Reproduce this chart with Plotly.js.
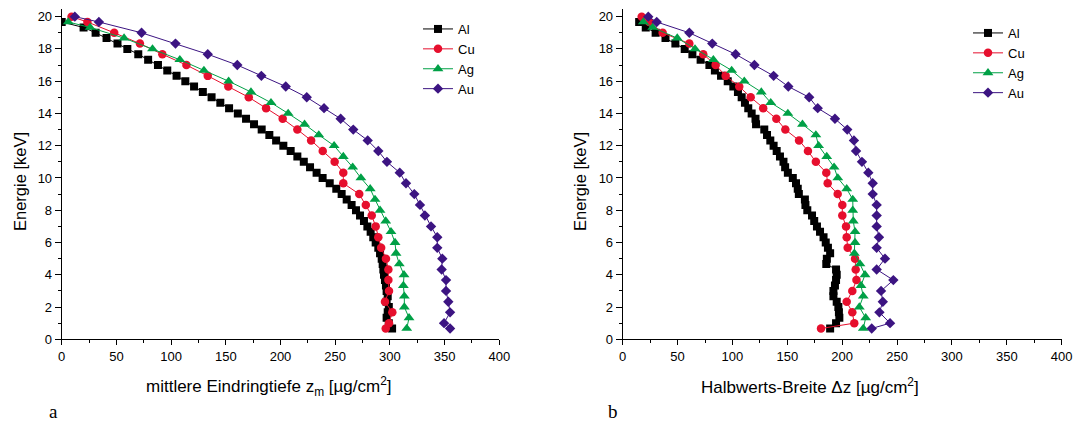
<!DOCTYPE html>
<html>
<head>
<meta charset="utf-8">
<script src="https://cdn.plot.ly/plotly-3.0.1.min.js"></script>
<style>html,body{margin:0;padding:0;background:#fff;}#chart{width:1074px;height:431px;}</style>
</head>
<body>
<div id="chart"></div>
<script>
// Energies [keV]
const energyAl = [19.67, 19.33, 19.00, 18.67, 18.33, 18.00, 17.67, 17.33, 17.00, 16.67, 16.33, 16.00, 15.67, 15.33, 15.00, 14.67, 14.33, 14.00, 13.67, 13.33, 13.00, 12.67, 12.33, 12.00, 11.67, 11.33, 11.00, 10.67, 10.33, 10.00, 9.67, 9.33, 9.00, 8.67, 8.33, 8.00, 7.67, 7.33, 7.00, 6.67, 6.33, 6.00, 5.67, 5.33, 5.00, 4.67, 4.33, 4.00, 3.67, 3.33, 3.00, 2.67, 2.33, 2.00, 1.67, 1.33, 1.00, 0.67];
const energyCuAu = [20.00, 19.67, 19.00, 18.33, 17.67, 17.00, 16.33, 15.67, 15.00, 14.33, 13.67, 13.00, 12.33, 11.67, 11.00, 10.33, 9.67, 9.00, 8.33, 7.67, 7.00, 6.33, 5.67, 5.00, 4.33, 3.67, 3.00, 2.33, 1.67, 1.00, 0.67];
const energyAg = [19.67, 19.33, 18.67, 18.00, 17.33, 16.67, 16.00, 15.33, 14.67, 14.00, 13.33, 12.67, 12.00, 11.33, 10.67, 10.00, 9.33, 8.67, 8.00, 7.33, 6.67, 6.00, 5.33, 4.67, 4.00, 3.33, 2.67, 2.00, 1.33, 0.67];

// (a) mittlere Eindringtiefe z_m [µg/cm²]
const zmAl = [0, 20, 31, 41, 51, 60, 70, 79, 88, 96.5, 105, 113, 121, 129, 137, 145, 153, 161, 168.5, 175.8, 182.8, 189.8, 196, 202.6, 209.3, 215.4, 221.3, 227, 233, 238.5, 245, 251, 255.9, 260.5, 265, 269, 272.7, 276.3, 279.4, 282.4, 284.8, 287, 289.4, 291, 292.5, 293.4, 294, 294.6, 295.5, 296.4, 297, 298, 297, 299, 298, 297, 299, 302];
const zmCu = [9, 23.5, 48, 71.5, 92, 114, 133.5, 152.3, 171, 186.8, 202, 215.4, 228, 238.6, 249.5, 257.4, 257.4, 272, 278, 283.4, 287, 289.4, 292, 296.4, 298.6, 298.6, 299.2, 295.5, 302.2, 299.2, 296.2];
const zmAg = [6, 26, 57, 83, 108, 130, 152.6, 173, 191.3, 207, 222, 235, 249, 257.4, 266, 273.5, 282, 286.4, 291, 296.2, 301, 304.7, 305.6, 308.6, 312.9, 312.3, 313.2, 313.2, 317.5, 315.4];
const zmAu = [12, 34, 73, 104, 133.5, 160.5, 182.5, 204.8, 224, 239.8, 255, 266.5, 279.7, 289.4, 297.3, 309, 314.7, 322.3, 327.5, 332, 337.6, 343.3, 343.3, 347.9, 347.3, 351.3, 351.3, 353.4, 355, 349.5, 355];

// (b) Halbwerts-Breite Δz [µg/cm²]
const dzAl = [15, 21, 30, 39, 48, 56.5, 63.5, 71, 79, 84, 89.6, 95.7, 100.8, 105, 108.4, 111.4, 114.4, 117.5, 121, 121.5, 129, 131.5, 134.5, 137.5, 140.3, 143.3, 146.5, 148, 150.5, 155, 157.9, 159.5, 160.5, 166, 166.5, 168.2, 172.5, 174.5, 177, 179.8, 183, 185, 187, 189, 186, 185.5, 194.4, 195, 194.4, 193.4, 192, 192, 195, 196.5, 197, 197.4, 194.4, 189];
const dzCu = [17.3, 24.2, 36.4, 60.7, 73.4, 84.7, 93.8, 106.2, 116.6, 128, 140, 148.2, 160.7, 168.8, 176, 185.5, 186.8, 195.9, 200.1, 200.1, 203.5, 204.1, 205, 211.7, 212.3, 213, 209.2, 204.1, 209.2, 211, 180.7];
const dzAg = [18.8, 27.3, 49.7, 65.9, 82.6, 99.3, 110.8, 126.3, 134.9, 150.5, 163.8, 176, 178.5, 185.9, 192.6, 196, 204.1, 209.6, 209.6, 210.1, 211.7, 211.7, 211.1, 216.2, 220.8, 217.1, 219.2, 215.6, 221.4, 219.2];
const dzAu = [23.3, 31, 60.7, 81.6, 102.9, 120, 137.5, 150.9, 169.9, 177.7, 193.4, 204.6, 210.7, 212.6, 218, 223.8, 227.8, 227.8, 231.4, 231.4, 231.4, 233.5, 231.4, 239, 231.4, 246.6, 235.4, 237, 233.9, 243.6, 226.9];

const seriesNames = ['Al', 'Cu', 'Ag', 'Au'];
const colors = ['#000000', '#e60f2d', '#00a046', '#3c1482'];
const symbols = ['square', 'circle', 'triangle-up', 'diamond'];
const sizes = [8, 8.5, 9.5, 8];

const W = 1074, H = 431;
const px = x => x / W;
const py = y => 1 - y / H;
const FONT = 'Liberation Sans, Arial, sans-serif';

function mk(i, x, y, xa, ya, leg) {
  return {
    type: 'scatter', mode: 'lines+markers', name: seriesNames[i],
    x: x, y: y, xaxis: xa, yaxis: ya, legend: leg,
    line: {color: colors[i], width: 1},
    marker: {symbol: symbols[i], size: sizes[i], color: colors[i], line: {width: 0}}
  };
}

const traces = [
  mk(0, zmAl, energyAl, 'x', 'y', 'legend'),
  mk(1, zmCu, energyCuAu, 'x', 'y', 'legend'),
  mk(2, zmAg, energyAg, 'x', 'y', 'legend'),
  mk(3, zmAu, energyCuAu, 'x', 'y', 'legend'),
  mk(0, dzAl, energyAl, 'x2', 'y2', 'legend2'),
  mk(1, dzCu, energyCuAu, 'x2', 'y2', 'legend2'),
  mk(2, dzAg, energyAg, 'x2', 'y2', 'legend2'),
  mk(3, dzAu, energyCuAu, 'x2', 'y2', 'legend2')
];

function xax(domain, anchor) {
  return {
    domain: domain, anchor: anchor, range: [0, 400], dtick: 50, tick0: 0,
    ticks: 'outside', ticklen: 5, tickwidth: 1, tickcolor: '#000',
    minor: {dtick: 25, ticks: 'outside', ticklen: 3, tickcolor: '#000'},
    showline: true, linecolor: '#000', linewidth: 1, showgrid: false, zeroline: false,
    tickfont: {family: FONT, size: 13, color: '#000'}, fixedrange: true
  };
}
function yax(anchor) {
  return {
    domain: [1 - 339.3 / H, 1 - 8.6 / H], anchor: anchor, range: [0, 20.5], dtick: 2, tick0: 0,
    ticks: 'outside', ticklen: 6, tickwidth: 1, tickcolor: '#000',
    minor: {dtick: 1, ticks: 'outside', ticklen: 3, tickcolor: '#000'},
    showline: true, linecolor: '#000', linewidth: 1, showgrid: false, zeroline: false,
    tickfont: {family: FONT, size: 13, color: '#000'}, fixedrange: true
  };
}

function legendAt(x, y) {
  return {
    x: px(x), y: py(y), xanchor: 'left', yanchor: 'top',
    font: {family: FONT, size: 13, color: '#000'},
    bgcolor: 'rgba(0,0,0,0)', borderwidth: 0, tracegroupgap: 0, itemwidth: 30
  };
}

const ann = (text, x, y, opts) => Object.assign({
  text: text, x: px(x), y: py(y), xref: 'paper', yref: 'paper',
  showarrow: false, xanchor: 'center', yanchor: 'middle',
  font: {family: FONT, size: 17, color: '#000'}
}, opts || {});

const layout = {
  width: W, height: H,
  margin: {l: 0, r: 0, t: 0, b: 0},
  paper_bgcolor: '#fff', plot_bgcolor: '#fff',
  showlegend: true,
  xaxis: xax([61.7 / W, 499.3 / W], 'y'),
  yaxis: yax('x'),
  xaxis2: xax([622.7 / W, 1061.7 / W], 'y2'),
  yaxis2: yax('x2'),
  legend: legendAt(418, 14),
  legend2: legendAt(968, 18),
  annotations: [
    ann('mittlere Eindringtiefe z<sub>m</sub> [µg/cm<sup>2</sup>]', 269, 386),
    ann('Halbwerts-Breite Δz [µg/cm<sup>2</sup>]', 810, 386),
    ann('Energie [keV]', 20, 182, {textangle: -90, font: {family: FONT, size: 16.5, color: '#000'}}),
    ann('Energie [keV]', 580, 182, {textangle: -90, font: {family: FONT, size: 16.5, color: '#000'}}),
    ann('a', 53, 411, {font: {family: 'Liberation Serif, Times New Roman, serif', size: 19, color: '#000'}}),
    ann('b', 613, 411, {font: {family: 'Liberation Serif, Times New Roman, serif', size: 19, color: '#000'}})
  ]
};

Plotly.newPlot('chart', traces, layout, {displayModeBar: false, staticPlot: true});
</script>
</body>
</html>
